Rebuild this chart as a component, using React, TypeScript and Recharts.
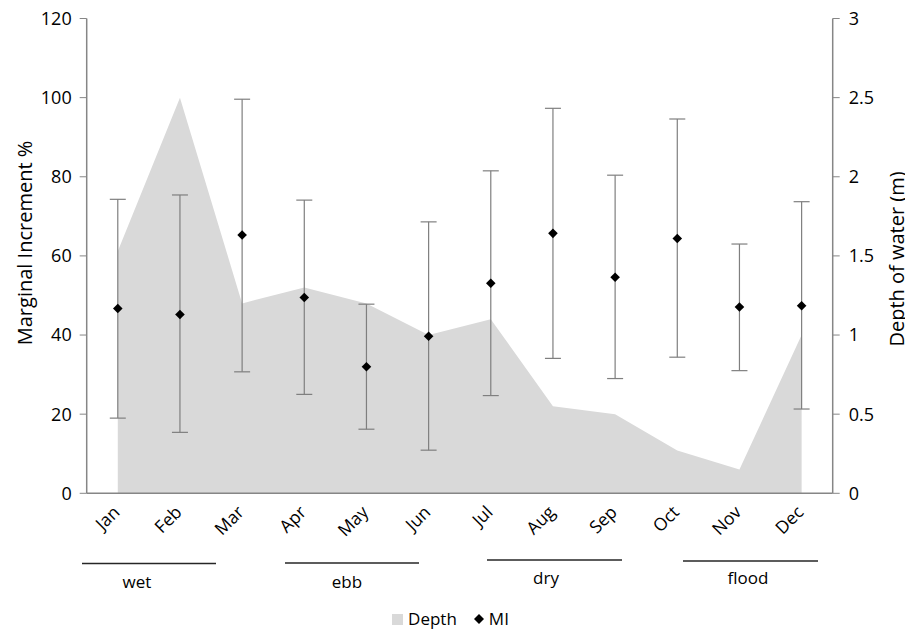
import {
  ComposedChart,
  Area,
  Scatter,
  ErrorBar,
  XAxis,
  YAxis,
  Legend,
} from "recharts";

// monthly values
const months = ["Jan", "Feb", "Mar", "Apr", "May", "Jun", "Jul", "Aug", "Sep", "Oct", "Nov", "Dec"];
const depth = [1.53, 2.5, 1.2, 1.3, 1.2, 1.0, 1.1, 0.55, 0.5, 0.27, 0.15, 1.0];
const mi = [46.7, 45.2, 65.3, 49.5, 32.0, 39.7, 53.1, 65.7, 54.6, 64.4, 47.1, 47.4];
const miLow = [19.0, 15.4, 30.7, 25.0, 16.2, 10.9, 24.7, 34.1, 29.0, 34.4, 31.0, 21.3];
const miHigh = [74.3, 75.4, 99.6, 74.1, 47.8, 68.6, 81.5, 97.3, 80.4, 94.6, 63.0, 73.7];

const leftTicks = [0, 20, 40, 60, 80, 100, 120];
const rightTicks = [0, 0.5, 1, 1.5, 2, 2.5, 3];
const seasons = ["wet", "ebb", "dry", "flood"];

// where the season brackets sit under the month labels (px in chart box)
const seasonLayout = [
  { x1: 82, x2: 216, y: 563.5, tx: 137, ty: 588 },
  { x1: 285, x2: 419, y: 563, tx: 347, ty: 588 },
  { x1: 487, x2: 622, y: 560, tx: 546, ty: 584 },
  { x1: 683, x2: 818, y: 561, tx: 748, ty: 584 },
];

const W = 913;
const H = 630;
const FONT = "'Open Sans', sans-serif";
const AXIS = "#868686";
const AREA = "#d9d9d9";

const data = months.map((m, i) => ({
  month: m,
  depth: depth[i],
  mi: mi[i],
  err: [mi[i] - miLow[i], miHigh[i] - mi[i]],
}));

function MonthTick({ x, y, payload }: any) {
  return (
    <g transform={`translate(${x + 3},${y + 18})`}>
      <text
        textAnchor="end"
        transform="rotate(-45)"
        fontSize={17.5}
        fontFamily={FONT}
        fill="#000"
      >
        {payload.value}
      </text>
    </g>
  );
}

function Diamond({ cx, cy }: any) {
  if (cx == null || cy == null) return null;
  const r = 4.8;
  return <path d={`M${cx},${cy - r}L${cx + r},${cy}L${cx},${cy + r}L${cx - r},${cy}Z`} fill="#000" />;
}

function LegendBox() {
  return (
    <div
      style={{
        display: "flex",
        justifyContent: "center",
        alignItems: "center",
        height: 30,
        paddingTop: 8,
        boxSizing: "border-box",
        fontFamily: FONT,
        fontSize: 17,
        lineHeight: "18px",
        color: "#000",
        paddingRight: 12,
      }}
    >
      <span style={{ width: 11, height: 11, background: AREA, display: "inline-block", marginRight: 5 }} />
      <span>Depth</span>
      <svg width={12} height={12} style={{ marginLeft: 16, marginRight: 4 }}>
        <path d="M6,1L11,6L6,11L1,6Z" fill="#000" />
      </svg>
      <span>MI</span>
    </div>
  );
}

export default function App() {
  return (
    <div style={{ position: "relative", left: -8, top: -8, width: W, height: H }}>
      <ComposedChart
        width={W}
        height={H}
        data={data}
        margin={{ top: 18.5, right: 0, bottom: 0, left: 0 }}
      >
        <XAxis
          dataKey="month"
          scale="band"
          interval={0}
          height={106.7}
          tickLine={false}
          tickSize={0}
          axisLine={{ stroke: AXIS, strokeWidth: 1.5 }}
          tick={<MonthTick />}
        />
        <YAxis
          yAxisId="left"
          domain={[0, 120]}
          ticks={leftTicks}
          width={86.7}
          tickSize={7}
          tickMargin={8}
          axisLine={{ stroke: AXIS, strokeWidth: 1.5 }}
          tickLine={{ stroke: AXIS }}
          tick={{ fill: "#000", fontSize: 18, fontFamily: FONT }}
        />
        <YAxis
          yAxisId="right"
          orientation="right"
          domain={[0, 3]}
          ticks={rightTicks}
          width={80.3}
          tickSize={7}
          tickMargin={9}
          axisLine={{ stroke: AXIS, strokeWidth: 1.5 }}
          tickLine={{ stroke: AXIS }}
          tick={{ fill: "#000", fontSize: 18, fontFamily: FONT }}
        />
        <Area
          yAxisId="right"
          dataKey="depth"
          name="Depth"
          type="linear"
          stroke="none"
          fill={AREA}
          fillOpacity={1}
          isAnimationActive={false}
        />
        <Scatter
          yAxisId="left"
          dataKey="mi"
          name="MI"
          fill="#000"
          shape={<Diamond />}
          isAnimationActive={false}
        >
          <ErrorBar dataKey="err" width={8} stroke="#7f7f7f" strokeWidth={1.2} direction="y" />
        </Scatter>
        <Legend verticalAlign="bottom" height={30} content={() => <LegendBox />} />
      </ComposedChart>
      <svg
        width={W}
        height={H}
        style={{ position: "absolute", left: 0, top: 0, pointerEvents: "none" }}
      >
        <text
          transform="translate(24,243) rotate(-90)"
          textAnchor="middle"
          dominantBaseline="central"
          fontSize={20}
          fontFamily={FONT}
          fill="#000"
        >
          Marginal Increment %
        </text>
        <text
          transform="translate(896,259) rotate(-90)"
          textAnchor="middle"
          dominantBaseline="central"
          fontSize={20}
          fontFamily={FONT}
          fill="#000"
        >
          Depth of water (m)
        </text>
        {seasons.map((s, i) => {
          const p = seasonLayout[i];
          return (
            <g key={s}>
              <line x1={p.x1} x2={p.x2} y1={p.y} y2={p.y} stroke="#262626" strokeWidth={1.5} />
              <text x={p.tx} y={p.ty} textAnchor="middle" fontSize={17} fontFamily={FONT} fill="#000">
                {s}
              </text>
            </g>
          );
        })}
      </svg>
    </div>
  );
}
